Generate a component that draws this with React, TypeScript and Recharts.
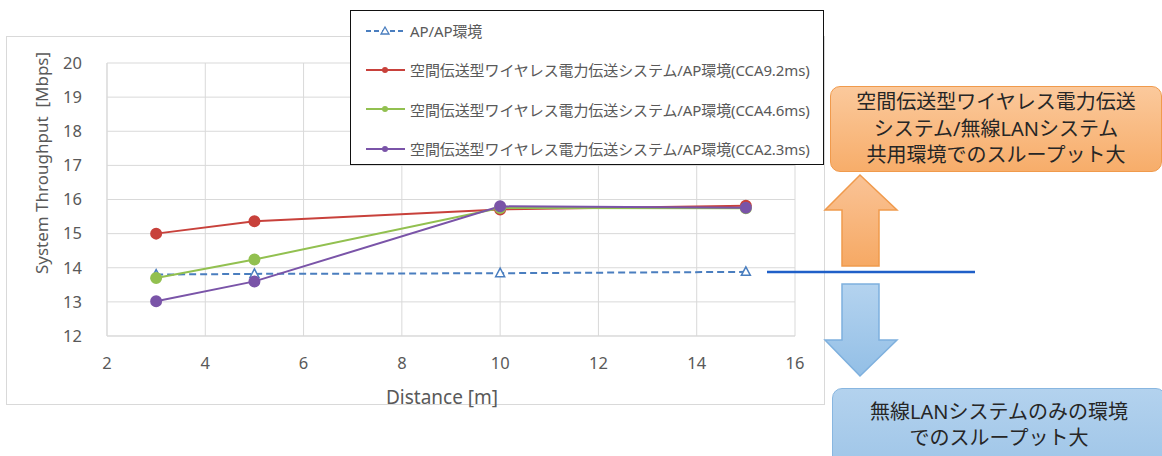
import { LineChart, Line, XAxis, YAxis, CartesianGrid, Legend } from 'recharts';

// distances [m]
const distances = [3, 5, 10, 15];
// system throughput [Mbps]
const apOnly = [13.8, 13.82, 13.84, 13.88];
const cca92 = [15.0, 15.36, 15.71, 15.82];
const cca46 = [13.7, 14.24, 15.75, 15.74];
const cca23 = [13.02, 13.6, 15.8, 15.76];

const xTicks = [2, 4, 6, 8, 10, 12, 14, 16];
const yTicks = [12, 13, 14, 15, 16, 17, 18, 19, 20];

const seriesNames = {
    ap: 'AP/AP環境',
    cca92: '空間伝送型ワイヤレス電力伝送システム/AP環境(CCA9.2ms)',
    cca46: '空間伝送型ワイヤレス電力伝送システム/AP環境(CCA4.6ms)',
    cca23: '空間伝送型ワイヤレス電力伝送システム/AP環境(CCA2.3ms)',
};
const legendOrder = ['ap', 'cca92', 'cca46', 'cca23'];

const data = distances.map((d, i) => ({
    d,
    ap: apOnly[i],
    cca92: cca92[i],
    cca46: cca46[i],
    cca23: cca23[i],
}));

const latin = '"Noto Sans", "Open Sans", sans-serif';
const cjk = '"Noto Sans", "Noto Sans CJK JP", sans-serif';
const gray = '#595959';

const Triangle = (props: any) => {
    const { cx, cy } = props;
    if (cx == null || cy == null) return null;
    return (
        <polygon
            points={`${cx},${cy - 5} ${cx + 4.5},${cy + 3.5} ${cx - 4.5},${cy + 3.5}`}
            fill="#fff"
            stroke="#4a7ebf"
            strokeWidth={1.5}
        />
    );
};

const renderLegend = (props: any) => {
    const payload = [...(props.payload || [])].sort(
        (a: any, b: any) => legendOrder.indexOf(a.dataKey) - legendOrder.indexOf(b.dataKey)
    );
    return (
        <div
            style={{
                boxSizing: 'border-box',
                width: 474,
                height: 155,
                border: '1.5px solid #111',
                background: '#fff',
                padding: '0 0 0 14px',
            }}
        >
            {payload.map((p: any) => {
                const dashed = p.dataKey === 'ap';
                return (
                    <div key={p.dataKey} style={{ display: 'flex', alignItems: 'center', height: 39.3 }}>
                        <svg width={42} height={12} style={{ marginRight: 3 }}>
                            <line
                                x1={1}
                                x2={40}
                                y1={6}
                                y2={6}
                                stroke={p.color}
                                strokeWidth={2}
                                strokeDasharray={dashed ? '5 3' : undefined}
                            />
                            {dashed ? (
                                <polygon points="20,2 24,9 16,9" fill="#fff" stroke={p.color} strokeWidth={1.3} />
                            ) : (
                                <circle cx={20} cy={6} r={3} fill={p.color} />
                            )}
                        </svg>
                        <span style={{ fontFamily: cjk, fontSize: 15, color: gray, whiteSpace: 'nowrap', letterSpacing: -0.1 }}>
                            {p.value}
                        </span>
                    </div>
                );
            })}
        </div>
    );
};

const YTitle = () => (
    <text
        x={41}
        y={163}
        transform="rotate(-90 41 163)"
        textAnchor="middle"
        dominantBaseline="central"
        fill={gray}
        fontSize={17}
        fontFamily={latin}
        style={{ whiteSpace: 'pre' }}
    >
        {'System Throughput  [Mbps]'}
    </text>
);

const XTitle = () => (
    <text x={442} y={397} textAnchor="middle" dominantBaseline="central" fill={gray} fontSize={19} fontFamily={latin}>
        Distance [m]
    </text>
);

export default function App() {
    return (
        <div style={{ position: 'absolute', left: 0, top: 0, width: 1162, height: 456, background: '#fff', overflow: 'hidden' }}>
            {/* chart frame */}
            <div
                style={{
                    position: 'absolute',
                    left: 6,
                    top: 36,
                    width: 819,
                    height: 369,
                    border: '1px solid #d9d9d9',
                    boxSizing: 'border-box',
                }}
            />
            <div style={{ position: 'absolute', left: 0, top: 0 }}>
                <LineChart width={1162} height={456} data={data} margin={{ top: 63, right: 367, bottom: 60, left: 47 }}>
                    <CartesianGrid stroke="#d9d9d9" />
                    <XAxis
                        dataKey="d"
                        type="number"
                        domain={[2, 16]}
                        ticks={xTicks}
                        height={60}
                        tickLine={false}
                        tickSize={0}
                        tickMargin={21}
                        axisLine={{ stroke: '#d9d9d9' }}
                        tick={{ fill: gray, fontSize: 16.5, fontFamily: latin }}
                        label={{ content: () => <XTitle /> }}
                    />
                    <YAxis
                        type="number"
                        domain={[12, 20]}
                        ticks={yTicks}
                        width={60}
                        tickLine={false}
                        tickSize={0}
                        tickMargin={25}
                        axisLine={{ stroke: '#d9d9d9' }}
                        tick={{ fill: gray, fontSize: 16.5, fontFamily: latin }}
                        label={{ content: () => <YTitle /> }}
                    />
                    <Legend
                        layout="horizontal"
                        verticalAlign="middle"
                        content={renderLegend}
                        wrapperStyle={{ left: 350, top: 10, width: 474, height: 155 }}
                    />
                    <Line
                        dataKey="ap"
                        name={seriesNames.ap}
                        stroke="#4a7ebf"
                        strokeWidth={2}
                        strokeDasharray="7 4"
                        dot={<Triangle />}
                        isAnimationActive={false}
                    />
                    <Line
                        dataKey="cca92"
                        name={seriesNames.cca92}
                        stroke="#c8413b"
                        strokeWidth={2}
                        dot={{ r: 5, fill: '#c8413b', stroke: '#c8413b' }}
                        isAnimationActive={false}
                    />
                    <Line
                        dataKey="cca46"
                        name={seriesNames.cca46}
                        stroke="#92c050"
                        strokeWidth={2}
                        dot={{ r: 5, fill: '#92c050', stroke: '#92c050' }}
                        isAnimationActive={false}
                    />
                    <Line
                        dataKey="cca23"
                        name={seriesNames.cca23}
                        stroke="#7a54a8"
                        strokeWidth={2}
                        dot={{ r: 5, fill: '#7a54a8', stroke: '#7a54a8' }}
                        isAnimationActive={false}
                    />
                </LineChart>
            </div>

            {/* annotations */}
            <svg width={1162} height={456} style={{ position: 'absolute', left: 0, top: 0, pointerEvents: 'none' }}>
                <defs>
                    <linearGradient id="og" x1="0" y1="0" x2="0" y2="1">
                        <stop offset="0" stopColor="#fac396" />
                        <stop offset="1" stopColor="#f6a964" />
                    </linearGradient>
                    <linearGradient id="bg" x1="0" y1="0" x2="0" y2="1">
                        <stop offset="0" stopColor="#b4d3ef" />
                        <stop offset="1" stopColor="#93bfe6" />
                    </linearGradient>
                </defs>
                <polygon
                    points="860,175 897,210 879,210 879,266 842,266 842,210 825,210"
                    fill="url(#og)"
                    stroke="#f09a4c"
                    strokeWidth={1.5}
                />
                <polygon
                    points="842,284 879,284 879,340 897,340 860,376 825,340 842,340"
                    fill="url(#bg)"
                    stroke="#7eb0de"
                    strokeWidth={1.5}
                />
                <line x1={767} x2={975} y1={272} y2={272} stroke="#1f5fc8" strokeWidth={2.5} />
            </svg>

            <div
                style={{
                    position: 'absolute',
                    left: 830,
                    top: 86,
                    width: 332,
                    height: 86,
                    boxSizing: 'border-box',
                    borderRadius: 10,
                    border: '1.5px solid #f09a4c',
                    background: 'linear-gradient(#fbc99c, #f7ad6a)',
                    display: 'flex',
                    flexDirection: 'column',
                    justifyContent: 'center',
                    alignItems: 'center',
                    fontFamily: cjk,
                    fontSize: 20,
                    lineHeight: '26.5px',
                    color: '#262626',
                }}
            >
                <div>空間伝送型ワイヤレス電力伝送</div>
                <div>システム/無線LANシステム</div>
                <div>共用環境でのスループット大</div>
            </div>

            <div
                style={{
                    position: 'absolute',
                    left: 832,
                    top: 388,
                    width: 334,
                    height: 78,
                    boxSizing: 'border-box',
                    borderRadius: 10,
                    border: '1.5px solid #88b6e0',
                    background: 'linear-gradient(#b3d2ee, #a0c6e8)',
                    display: 'flex',
                    flexDirection: 'column',
                    justifyContent: 'flex-start',
                    alignItems: 'center',
                    paddingTop: 10,
                    fontFamily: cjk,
                    fontSize: 20,
                    lineHeight: '26px',
                    color: '#262626',
                }}
            >
                <div>無線LANシステムのみの環境</div>
                <div>でのスループット大</div>
            </div>
        </div>
    );
}
